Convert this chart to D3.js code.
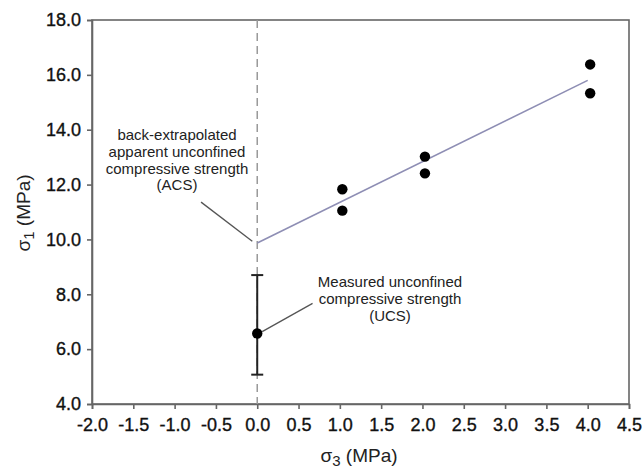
<!DOCTYPE html>
<html><head><meta charset="utf-8">
<script src="https://cdn.jsdelivr.net/npm/d3@7"></script>
<style>body{margin:0;background:#fff}svg{display:block}</style>
</head><body><svg id="c" width="642" height="469"></svg>
<script>
// Data
const sigma3 = [1.03, 1.03, 2.03, 2.03, 4.03, 4.03];
const sigma1 = [11.83, 11.05, 13.02, 12.41, 16.38, 15.33];
const ucsX = [0];
const ucsY = [6.57];
const ucsHi = [8.70];
const ucsLo = [5.07];
const fitX = [0, 4.0];
const fitY = [9.87, 15.8];
const xTicks = [-2.0,-1.5,-1.0,-0.5,0.0,0.5,1.0,1.5,2.0,2.5,3.0,3.5,4.0,4.5];
const yTicks = [4.0,6.0,8.0,10.0,12.0,14.0,16.0,18.0];
const acsLabel = ["back-extrapolated","apparent unconfined","compressive strength","(ACS)"];
const ucsLabel = ["Measured unconfined","compressive strength","(UCS)"];

const svg = d3.select("#c");
const L=92, R=629, T=20, B=404;
const x = d3.scaleLinear().domain([-2,4.5]).range([L,R]);
const y = d3.scaleLinear().domain([4,18]).range([B,T]);
const font = "'Liberation Sans', Arial, sans-serif";
const axisCol = "#666";
const fmt = d => d.toFixed(1);

// frame
svg.append("rect").attr("x",L).attr("y",T).attr("width",R-L).attr("height",B-T)
  .attr("fill","none").attr("stroke",axisCol).attr("stroke-width",1.6);

// axes
const xa = svg.append("g").attr("transform",`translate(0,${B})`)
  .call(d3.axisBottom(x).tickValues(xTicks).tickFormat(fmt).tickSize(5).tickPadding(9));
const ya = svg.append("g").attr("transform",`translate(${L},0)`)
  .call(d3.axisLeft(y).tickValues(yTicks).tickFormat(fmt).tickSize(5).tickPadding(6));
[xa,ya].forEach(a=>{
  a.select(".domain").attr("stroke",axisCol).attr("stroke-width",1.6);
  a.selectAll(".tick line").attr("stroke",axisCol).attr("stroke-width",1.6);
  a.selectAll(".tick text").attr("fill","#111").style("font-family",font).style("font-size","18px")
    .attr("stroke","#111").attr("stroke-width",0.35);
});

// dashed vertical at 0
svg.append("line").attr("x1",x(0)).attr("x2",x(0)).attr("y1",T).attr("y2",B)
  .attr("stroke","#999").attr("stroke-width",1.5).attr("stroke-dasharray","8,5");

// fit line
svg.append("path").datum(fitX.map((d,i)=>[d,fitY[i]]))
  .attr("d",d3.line().x(d=>x(d[0])).y(d=>y(d[1])))
  .attr("fill","none").attr("stroke","#8e8eb4").attr("stroke-width",1.6);

// error bar
ucsX.forEach((d,i)=>{
  const g = svg.append("g").attr("stroke","#222").attr("stroke-width",2);
  g.append("line").attr("x1",x(d)).attr("x2",x(d)).attr("y1",y(ucsHi[i])).attr("y2",y(ucsLo[i]));
  [ucsHi[i],ucsLo[i]].forEach(v=>g.append("line").attr("x1",x(d)-6).attr("x2",x(d)+6).attr("y1",y(v)).attr("y2",y(v)));
});

// leader lines
svg.append("line").attr("x1",x(-0.68)).attr("y1",y(11.36)).attr("x2",x(-0.06)).attr("y2",y(9.93))
  .attr("stroke","#555").attr("stroke-width",1.3);
svg.append("line").attr("x1",x(0.06)).attr("y1",y(6.64)).attr("x2",x(0.67)).attr("y2",y(7.67))
  .attr("stroke","#555").attr("stroke-width",1.3);

// points
svg.selectAll("circle.pt").data(sigma3.map((d,i)=>[d,sigma1[i]])).enter().append("circle")
  .attr("cx",d=>x(d[0])).attr("cy",d=>y(d[1])).attr("r",5.2).attr("fill","#000");
svg.selectAll("circle.ucs").data(ucsX.map((d,i)=>[d,ucsY[i]])).enter().append("circle")
  .attr("cx",d=>x(d[0])).attr("cy",d=>y(d[1])).attr("r",5.2).attr("fill","#000");

// annotations
function label(lines, cx, by, dy){
  const t = svg.append("text").attr("text-anchor","middle").attr("fill","#222")
    .style("font-family",font).style("font-size","15px");
  lines.forEach((s,i)=>t.append("tspan").attr("x",cx).attr("y",by+i*dy).text(s));
}
label(acsLabel, 177, 140, 16.8);
label(ucsLabel, 390, 287, 16.8);

// axis titles
const xt = svg.append("text").attr("x",359).attr("y",462).attr("text-anchor","middle")
  .attr("fill","#222").style("font-family",font).style("font-size","19px");
xt.append("tspan").text("σ");
xt.append("tspan").attr("dy",4).style("font-size","15px").text("3");
xt.append("tspan").attr("dy",-4).text(" (MPa)");
const yt = svg.append("text").attr("transform","translate(30,213) rotate(-90)").attr("text-anchor","middle")
  .attr("fill","#222").style("font-family",font).style("font-size","19px");
yt.append("tspan").text("σ");
yt.append("tspan").attr("dy",4).style("font-size","15px").text("1");
yt.append("tspan").attr("dy",-4).text(" (MPa)");
</script></body></html>
